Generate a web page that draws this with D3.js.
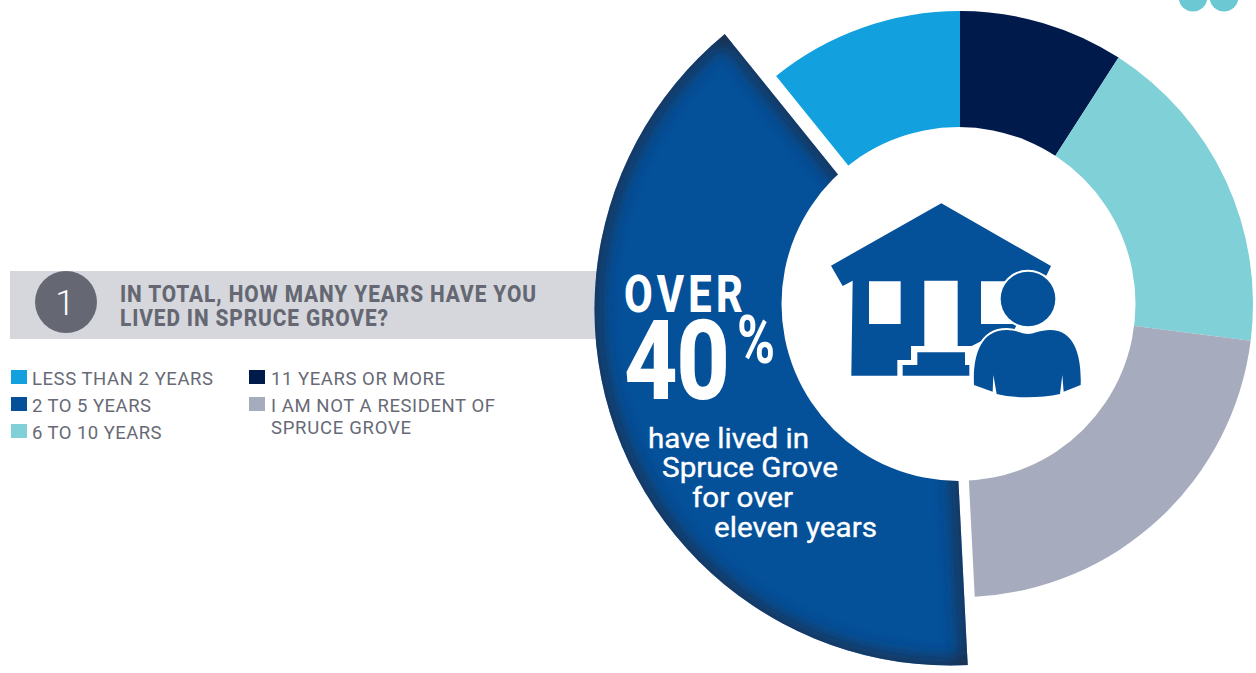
<!DOCTYPE html>
<html><head><meta charset="utf-8">
<script src="https://cdn.jsdelivr.net/npm/d3@7/dist/d3.min.js"></script>
<style>html,body{margin:0;padding:0;background:#fff;overflow:hidden}svg{display:block}</style>
</head><body><svg id="c" width="1256" height="673"></svg>
<script>
const categories = ["11 YEARS OR MORE","6 TO 10 YEARS","I AM NOT A RESIDENT OF SPRUCE GROVE","2 TO 5 YEARS","LESS THAN 2 YEARS"];
const values = [9.1,17.9,22.2,40.0,10.8];
const colors = ["#001a4c","#80d0d8","#a7abbe","#045099","#12a1de"];
const highlighted = "2 TO 5 YEARS";
const legendCol1 = [["LESS THAN 2 YEARS",181],["2 TO 5 YEARS",119],["6 TO 10 YEARS",129.5]];
const legendCol2 = [["11 YEARS OR MORE",174],["I AM NOT A RESIDENT OF",224]];
const color = d3.scaleOrdinal(categories,colors);

const svg = d3.select("#c");
const defs = svg.append("defs");
const cx=960, cy=304, R=293, r=170, hx=958.5, hr=177;

// text squeezed horizontally to a given ink width, the remainder going into letter spacing
function narrow(parent,t,x,y,size,weight,sx,w){
  return parent.append("text").attr("transform",`translate(${x},${y}) scale(${sx},1)`)
    .attr("font-size",size).attr("font-weight",weight)
    .attr("textLength",w/sx).attr("lengthAdjust","spacing").text(t);
}

// decorative dots, top right
svg.selectAll(".dot").data([1193,1224]).join("circle").attr("cx",d=>d).attr("cy",-3).attr("r",14.5).attr("fill","#6cc9d4");

// header band
svg.append("rect").attr("x",10).attr("y",271).attr("width",590).attr("height",68).attr("fill","#d6d7dc");
svg.append("circle").attr("cx",66).attr("cy",302).attr("r",31).attr("fill","#656873");
svg.append("text").attr("x",65).attr("y",315).attr("text-anchor","middle").attr("font-family","Roboto").attr("font-weight",300).attr("font-size",35).attr("fill","#fff").text("1");
const titleG = svg.append("g").attr("font-family","Roboto").attr("fill","#656873");
[["IN TOTAL, HOW MANY YEARS HAVE YOU",301.7,416],["LIVED IN SPRUCE GROVE?",325.7,268]].forEach(([t,y,w])=>{
  narrow(titleG,t,120,y,23.4,800,0.89,w);
});

// legend
const legendG = svg.append("g").attr("font-family","Roboto").attr("font-size",18.5).attr("fill","#676a76");
const rows=[385,412,439];
legendCol1.forEach(([t,w],i)=>{
  legendG.append("rect").attr("x",11).attr("y",rows[i]-15).attr("width",16).attr("height",14).attr("fill",color(t));
  legendG.append("text").attr("x",32).attr("y",rows[i]).attr("textLength",w).text(t);
});
legendCol2.forEach(([t,w],i)=>{
  const key = categories.find(c=>c.startsWith(t));
  legendG.append("rect").attr("x",249).attr("y",rows[i]-15).attr("width",16).attr("height",14).attr("fill",color(key));
  legendG.append("text").attr("x",271).attr("y",rows[i]).attr("textLength",w).text(t);
});
legendG.append("text").attr("x",271).attr("y",434).attr("textLength",140).text("SPRUCE GROVE");

// donut
const pie = d3.pie().sort(null).value(d=>d.v).padAngle(0);
const arcs = pie(categories.map((c,i)=>({c,v:values[i]})));
const arc = d3.arc().innerRadius(r).outerRadius(R);
const bx=950, by=313.5, ox=950.5, oy=309.5, oR=356;
const wedge = d3.arc().innerRadius(0).outerRadius(560);

const main = svg.append("g").attr("transform",`translate(${cx},${cy})`);
main.selectAll("path").data(arcs.filter(d=>d.data.c!==highlighted)).join("path")
  .attr("d",arc).attr("fill",d=>color(d.data.c));

// exploded slice: a wedge from its own apex, clipped by its own outer circle
const hi = arcs.find(d=>d.data.c===highlighted);
defs.append("filter").attr("id","soft").attr("x","-20%").attr("y","-20%").attr("width","140%").attr("height","140%")
  .append("feGaussianBlur").attr("stdDeviation",8);
defs.append("clipPath").attr("id","wedgeClip").append("path").attr("transform",`translate(${bx},${by})`).attr("d",wedge(hi));
defs.append("clipPath").attr("id","circClip").append("circle").attr("cx",ox).attr("cy",oy).attr("r",oR);
const g1 = svg.append("g").attr("clip-path","url(#wedgeClip)");
const g2 = g1.append("g").attr("clip-path","url(#circClip)");
g2.append("rect").attr("x",560).attr("y",0).attr("width",420).attr("height",673).attr("fill",color(highlighted));
const glow = g2.append("g").attr("filter","url(#soft)").attr("fill","none").attr("stroke","#1e2c3e").attr("stroke-width",14).attr("stroke-opacity",0.85);
glow.append("circle").attr("cx",ox).attr("cy",oy).attr("r",oR);
glow.append("path").attr("transform",`translate(${bx},${by})`).attr("d",wedge(hi));

// hole, above every slice
svg.append("circle").attr("cx",hx).attr("cy",cy).attr("r",hr).attr("fill","#fff");

// house icon
const ic = svg.append("g").attr("transform","translate(780,190) scale(0.33333)").attr("fill","#045099");
ic.append("path").attr("fill-rule","evenodd").attr("d",
 "M484 40L813 228L800 255L760 300L700 425L600 455L575 468L533 468L533 272L433 272L433 468L393 468L393 510L352 510L352 557L214 557L218 272L188 288L153 227Z"+
 "M267 274H362V402H267ZM603 274H700V402H603Z");
ic.append("path").attr("d","M412 487H555V525H568V557H368V525H412Z");
const person = ic.append("g").attr("stroke","#fff").attr("stroke-width",12).attr("paint-order","stroke");
person.append("circle").attr("cx",744).attr("cy",327).attr("r",82);
person.append("path").attr("d","M582 585C578 500 600 420 680 420C710 420 730 432 744 432C760 432 780 420 810 420C885 420 905 500 902 585L851 605L847 555L840 612C780 625 700 625 650 612L640 555L638 605Z");

// callout
const tg = svg.append("g").attr("font-family","Roboto").attr("fill","#fff");
narrow(tg,"OVER",624,312,52,800,0.8,119);
narrow(tg,"40",624,399,111,800,0.84,106);
narrow(tg,"%",737,363,66,700,0.78,37);
[["have lived in",648,448.3,161],["Spruce Grove",662,477,176],["for over",692,506.5,101],["eleven years",714,536.5,163]].forEach(([t,x,y,w])=>{
  tg.append("text").attr("x",x).attr("y",y).attr("font-weight",400).attr("font-size",27.5).attr("stroke","#fff").attr("stroke-width",0.35)
    .attr("textLength",w).attr("lengthAdjust","spacingAndGlyphs").text(t);
});
</script></body></html>
